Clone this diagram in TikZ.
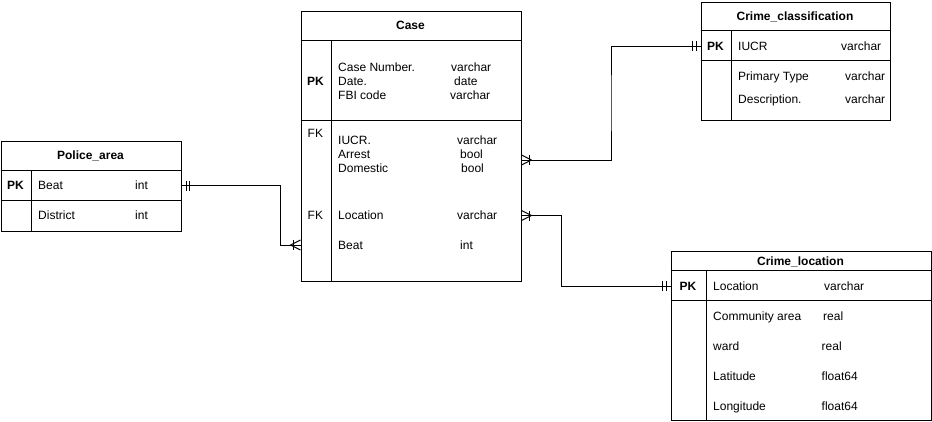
\documentclass[tikz,border=0pt]{standalone}
\usepackage{fontspec}
\setmainfont{Liberation Sans}
\usetikzlibrary{calc}
\tikzset{
  every node/.style={font=\fontsize{12}{14}\selectfont},
  boxline/.style={draw=black, line width=1pt},
  conn/.style={draw=black, line width=1pt},
  txt/.style={anchor=west, inner sep=0pt, text height=8.6pt, text depth=0pt},
  ctxt/.style={inner sep=0pt, text height=8.6pt, text depth=0pt},
  ttl/.style={ctxt, font=\fontsize{12}{14}\selectfont\bfseries},
  keyb/.style={ctxt, font=\fontsize{12}{14}\selectfont\bfseries},
  tbl/.style={draw=black, line width=1pt, fill=white, inner sep=0pt, anchor=north west}
}
% mandatory one: two bars at distance 4.5 and 8 from the box edge; #2 = +1 (right) or -1 (left)
\newcommand\ermandone[2]{%
  \draw[line width=1pt] ([xshift=#2*4.5pt]#1) ++(0,-5) -- ++(0,10);
  \draw[line width=1pt] ([xshift=#2*8pt]#1) ++(0,-5) -- ++(0,10);
}
% one to many: bar at 7.5, crow's foot converging at 10
\newcommand\ermany[2]{%
  \draw[line width=1pt] ([xshift=#2*7.5pt]#1) ++(0,-5) -- ++(0,10);
  \draw[line width=1pt] ([xshift=#2*10pt]#1) -- ([yshift=-5pt]#1);
  \draw[line width=1pt] ([xshift=#2*10pt]#1) -- ([yshift=5pt]#1);
}
\begin{document}
\begin{tikzpicture}[x=1pt,y=-1pt]
\useasboundingbox (0,0) rectangle (932,421);

% ---------------- Police_area ----------------
\node[tbl, minimum width=180pt, minimum height=90pt] (pa) at (0.5,140.5) {};
\draw[boxline] (0.5,170.5) -- (180.5,170.5);
\draw[boxline] (0.5,200.5) -- (180.5,200.5);
\draw[boxline] (31,170.5) -- (31,230.5);
\node[ttl] (paT) at (90.5,155.5) {Police\_area};
\node[keyb] (paPK) at (15.5,185.5) {PK};
\node[txt] (paBeat) at (38,185.5) {Beat};
\node[txt] (paBeatT) at (135,185.5) {int};
\node[txt] (paDist) at (38,215.5) {District};
\node[txt] (paDistT) at (135,215.5) {int};

% ---------------- Case ----------------
\node[tbl, minimum width=220pt, minimum height=270pt] (cs) at (300.5,10.5) {};
\draw[boxline] (300.5,40.5) -- (520.5,40.5);
\draw[boxline] (300.5,120.5) -- (520.5,120.5);
\draw[boxline] (331,40.5) -- (331,280.5);
\node[ttl] (csT) at (410.5,25.5) {Case};
\node[keyb] (csPK) at (315.5,81) {PK};
\node[txt] (csNum) at (338,67) {Case Number.};
\node[txt] (csDate) at (338,81) {Date.};
\node[txt] (csFbi) at (338,95) {FBI code};
\node[txt] (csNumT) at (451,67) {varchar};
\node[txt] (csDateT) at (454,81) {date};
\node[txt] (csFbiT) at (450,95) {varchar};
\node[txt] (csFK1) at (307.5,133) {FK};
\node[txt] (csIucr) at (338,140.5) {IUCR.};
\node[txt] (csArr) at (338,154) {Arrest};
\node[txt] (csDom) at (338,168) {Domestic};
\node[txt] (csIucrT) at (457,140.5) {varchar};
\node[txt] (csArrT) at (460,154) {bool};
\node[txt] (csDomT) at (461,168) {bool};
\node[txt] (csFK2) at (307.5,215.5) {FK};
\node[txt] (csLoc) at (338,215.5) {Location};
\node[txt] (csLocT) at (457,215.5) {varchar};
\node[txt] (csBeat) at (338,245) {Beat};
\node[txt] (csBeatT) at (460,245) {int};

% ---------------- Crime_classification ----------------
\node[tbl, minimum width=189pt, minimum height=118.5pt] (cc) at (700.5,1.5) {};
\draw[boxline] (700.5,30.5) -- (889.5,30.5);
\draw[boxline] (700.5,60.5) -- (889.5,60.5);
\draw[boxline] (731,30.5) -- (731,120);
\node[ttl] (ccT) at (795,16) {Crime\_classification};
\node[keyb] (ccPK) at (715.5,46) {PK};
\node[txt] (ccIucr) at (738,46) {IUCR};
\node[txt] (ccIucrT) at (841,46) {varchar};
\node[txt] (ccPrim) at (738,76) {Primary Type};
\node[txt] (ccPrimT) at (845,76) {varchar};
\node[txt] (ccDesc) at (738,99) {Description.};
\node[txt] (ccDescT) at (845,99) {varchar};

% ---------------- Crime_location ----------------
\node[tbl, minimum width=260pt, minimum height=169.5pt] (cl) at (670.5,250.5) {};
\draw[boxline] (670.5,270.5) -- (930.5,270.5);
\draw[boxline] (670.5,300) -- (930.5,300);
\draw[boxline] (706,270.5) -- (706,420);
\node[ttl] (clT) at (800.5,261) {Crime\_location};
\node[keyb] (clPK) at (688,286) {PK};
\node[txt] (clLoc) at (713,286) {Location};
\node[txt] (clLocT) at (824,286) {varchar};
\node[txt] (clCom) at (713,316) {Community area};
\node[txt] (clComT) at (823,316) {real};
\node[txt] (clWard) at (713,346) {ward};
\node[txt] (clWardT) at (821.5,346) {real};
\node[txt] (clLat) at (713,376) {Latitude};
\node[txt] (clLatT) at (821.5,376) {float64};
\node[txt] (clLon) at (713,406) {Longitude};
\node[txt] (clLonT) at (821.5,406) {float64};

% ---------------- Connectors ----------------
\coordinate (a1) at (pa.east |- paBeat.west);
\coordinate (a2) at (cs.west |- csBeat.west);
\draw[conn] (a1) -| ($(a2)+(-20,0)$) -- (a2);
\ermandone{a1}{1}
\ermany{a2}{-1}

\coordinate (b1) at (cs.east |- {$(csArr.west)!0.43!(csDom.west)$});
\coordinate (b2) at (cc.west |- ccIucr.west);
\draw[conn] (b1) -| ($(b1)!0.5!(b2)$) |- (b2);
\ermany{b1}{1}
\ermandone{b2}{-1}

\coordinate (c1) at (cs.east |- csLoc.west);
\coordinate (c2) at (cl.west |- clLoc.west);
\draw[conn] (c1) -- ($(c1)+(40,0)$) |- (c2);
\ermany{c1}{1}
\ermandone{c2}{-1}
\end{tikzpicture}
\end{document}
